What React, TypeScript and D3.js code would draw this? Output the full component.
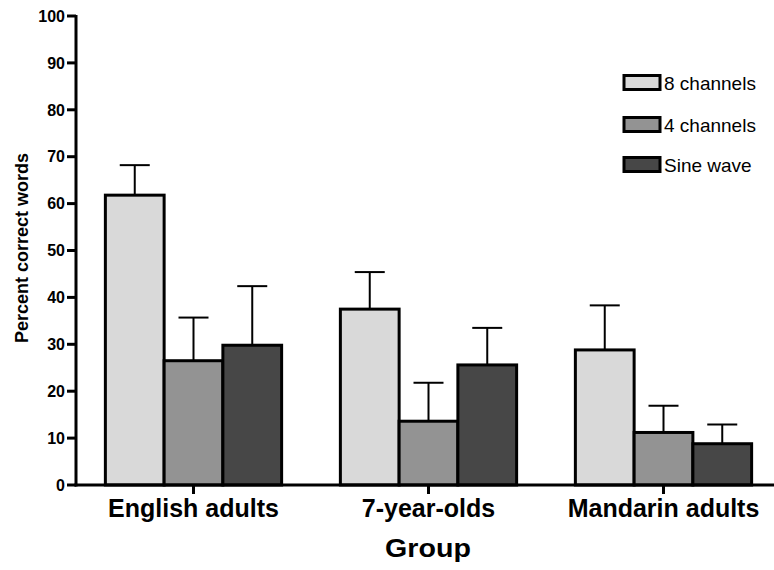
import React from "react";
import * as d3 from "d3";

const groups = ["English adults", "7-year-olds", "Mandarin adults"];
const seriesNames = ["8 channels", "4 channels", "Sine wave"];
const colors = ["#d9d9d9", "#939393", "#474747"];
const means8 = [61.8, 37.5, 28.8];
const means4 = [26.5, 13.6, 11.2];
const meansSine = [29.8, 25.6, 8.8];
const err8 = [6.4, 7.9, 9.5];
const err4 = [9.2, 8.2, 5.7];
const errSine = [12.6, 7.9, 4.1];
const yTicks = [0, 10, 20, 30, 40, 50, 60, 70, 80, 90, 100];

const means = [means8, means4, meansSine];
const errs = [err8, err4, errSine];

const W = 774;
const H = 570;
const FONT = "'Liberation Sans', Arial, sans-serif";

export default function App() {
  const x0 = d3.scaleBand<string>().domain(groups).range([76, 781]).paddingInner(0.25).paddingOuter(0.125);
  const x1 = d3.scaleBand<string>().domain(seriesNames).range([0, x0.bandwidth()]).padding(0);
  const y = d3.scaleLinear().domain([0, 100]).range([485, 16]);

  return (
    <svg width={W} height={H} style={{ position: "absolute", left: 0, top: 0, background: "#fff" }} fontFamily={FONT}>
      <rect x={0} y={0} width={W} height={H} fill="#fff" />
      {/* bars */}
      {groups.map((g, gi) =>
        seriesNames.map((s, si) => {
          const bx = (x0(g) as number) + (x1(s) as number);
          const bw = x1.bandwidth();
          const v = means[si][gi];
          const e = errs[si][gi];
          const cx = bx + bw / 2;
          return (
            <g key={g + s}>
              <line x1={cx} x2={cx} y1={y(v)} y2={y(v + e)} stroke="#000" strokeWidth={2} />
              <line x1={cx - 15} x2={cx + 15} y1={y(v + e)} y2={y(v + e)} stroke="#000" strokeWidth={2} />
              <rect x={bx} y={y(v)} width={bw} height={y(0) - y(v)} fill={colors[si]} stroke="#000" strokeWidth={3} />
            </g>
          );
        })
      )}
      {/* y axis */}
      <line x1={76} x2={76} y1={y(100) - 1} y2={y(0) + 1.5} stroke="#000" strokeWidth={3} />
      {yTicks.map((t) => (
        <g key={t}>
          <line x1={67} x2={76} y1={y(t)} y2={y(t)} stroke="#000" strokeWidth={3} />
          <text x={65} y={y(t)} dy="0.36em" textAnchor="end" fontSize={16} fontWeight="bold">
            {t}
          </text>
        </g>
      ))}
      {/* x axis */}
      <line x1={74.5} x2={774} y1={485} y2={485} stroke="#000" strokeWidth={3} />
      {groups.map((g) => {
        const cx = (x0(g) as number) + x0.bandwidth() / 2;
        return (
          <g key={g}>
            <line x1={cx} x2={cx} y1={485} y2={494} stroke="#000" strokeWidth={3} />
            <text x={cx} y={517} textAnchor="middle" fontSize={25} fontWeight="bold">
              {g}
            </text>
          </g>
        );
      })}
      {/* axis titles */}
      <text x={428} y={557} textAnchor="middle" fontSize={26} fontWeight="bold" transform="translate(428,557) scale(1.1,1) translate(-428,-557)">
        Group
      </text>
      <text transform="translate(28,248) rotate(-90)" textAnchor="middle" fontSize={18} fontWeight="bold">
        Percent correct words
      </text>
      {/* legend */}
      {seriesNames.map((s, i) => {
        const cy = [82.5, 124.5, 164.5][i];
        return (
          <g key={s}>
            <rect x={624} y={cy - 7} width={36} height={14} fill={colors[i]} stroke="#000" strokeWidth={3} />
            <text x={664} y={cy + 7} fontSize={19}>
              {s}
            </text>
          </g>
        );
      })}
    </svg>
  );
}
